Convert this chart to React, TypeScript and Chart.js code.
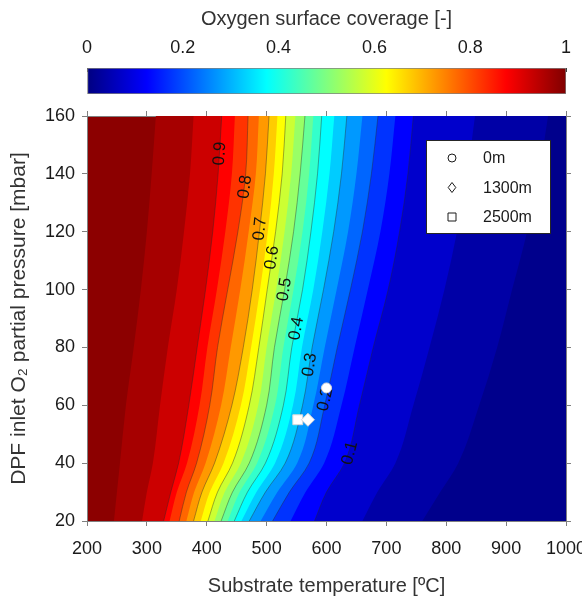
import React, { useEffect, useRef } from "react";
import { Chart, registerables } from "chart.js";

Chart.register(...registerables);

const FONT = '"Liberation Sans", Arial, Helvetica, sans-serif';
Chart.defaults.font.family = FONT;

// ---------- data ----------
const pressures = [20, 30, 40, 60, 80, 100, 120, 140, 160]; // mbar

// temperature (°C) of each coverage iso-line at the pressures above
const t0975 = [245, 250, 255, 265, 278, 290, 300, 308, 315];
const t095 = [292, 300, 310, 322, 335, 350, 362, 372, 378];
const t090 = [328, 340, 353, 370, 384, 398, 410, 419, 425];
const t085 = [338, 350, 367, 388, 401, 417, 431, 442, 447];
const t080 = [354, 366, 383, 405, 418, 435, 452, 465, 469];
const t075 = [366, 379, 398, 424, 440, 456, 470, 482, 487];
const t070 = [378, 392, 413, 442, 461, 476, 488, 498, 504];
const t065 = [390, 405, 428, 457, 474, 489, 502, 512, 518];
const t060 = [402, 418, 443, 471, 487, 501, 515, 526, 532];
const t055 = [413, 430, 457, 486, 500, 516, 530, 541, 548];
const t050 = [424, 443, 471, 500, 513, 530, 545, 556, 564];
const t045 = [435, 455, 484, 514, 528, 545, 560, 571, 578];
const t040 = [446, 468, 498, 528, 542, 560, 574, 585, 592];
const t035 = [458, 483, 514, 544, 559, 578, 593, 605, 613];
const t030 = [471, 498, 531, 560, 576, 595, 612, 625, 634];
const t025 = [490, 518, 551, 578, 597, 617, 636, 650, 660];
const t020 = [510, 538, 571, 597, 618, 640, 660, 675, 686];
const t015 = [540, 565, 596, 625, 647, 669, 690, 705, 715];
const t010 = [580, 600, 630, 655, 678, 703, 722, 736, 745];
const t005 = [660, 685, 715, 745, 772, 797, 818, 835, 848];
const t0025 = [760, 790, 820, 855, 885, 910, 935, 955, 970];

const contourLevels = [0.975, 0.95, 0.9, 0.85, 0.8, 0.75, 0.7, 0.65, 0.6, 0.55, 0.5, 0.45, 0.4, 0.35, 0.3, 0.25, 0.2, 0.15, 0.1, 0.05, 0.025];
const contourTemps = [t0975, t095, t090, t085, t080, t075, t070, t065, t060, t055, t050, t045, t040, t035, t030, t025, t020, t015, t010, t005, t0025];

// inline contour labels
const labelTexts = ["0.9", "0.8", "0.7", "0.6", "0.5", "0.4", "0.3", "0.2", "0.1"];
const labelLevels = [0.9, 0.8, 0.7, 0.6, 0.5, 0.4, 0.3, 0.2, 0.1];
const labelT = [422, 464, 489, 509, 530, 550, 572, 598, 639];
const labelP = [147, 135.5, 121, 111, 100, 86.5, 74, 62, 43.5];

// operating points
const siteLabels = ["0m", "1300m", "2500m"];
const siteT = [600, 569, 552];
const siteP = [66, 55, 55];
const siteStyles = ["circle", "rectRot", "rect"];
const siteRadius = [5, 6.5, 7];

// axes
const cbTicks = [0, 0.2, 0.4, 0.6, 0.8, 1];
const xTicksT = [200, 300, 400, 500, 600, 700, 800, 900, 1000];
const yTicksP = [20, 40, 60, 80, 100, 120, 140, 160];

// ---------- helpers ----------
function clamp(v: number) {
  return Math.max(0, Math.min(1, v));
}
function jet(v: number) {
  const r = clamp(Math.min(4 * v - 1.5, -4 * v + 4.5));
  const g = clamp(Math.min(4 * v - 0.5, -4 * v + 3.5));
  const b = clamp(Math.min(4 * v + 0.5, -4 * v + 2.5));
  return `rgb(${Math.round(r * 255)},${Math.round(g * 255)},${Math.round(b * 255)})`;
}

const AXIS = "#808080";
const TXT = "#1a1a1a";

export default function App() {
  const mainRef = useRef<HTMLCanvasElement>(null);
  const barRef = useRef<HTMLCanvasElement>(null);

  useEffect(() => {
    document.body.style.margin = "0";
    const nContours = contourLevels.length;

    const contourDatasets = contourLevels.map((lv, k) => {
      const next = k + 1 < nContours ? contourLevels[k + 1] : 0;
      const major = Math.abs(lv * 10 - Math.round(lv * 10)) < 1e-6;
      return {
        label: "c" + lv,
        data: pressures.map((p, i) => ({ x: contourTemps[k][i], y: p })),
        borderColor: major ? "rgba(40,40,40,0.5)" : "rgba(0,0,0,0)",
        borderWidth: major ? 0.8 : 0,
        backgroundColor: jet((lv + next) / 2),
        fill: { value: 1000 },
        pointRadius: 0,
        cubicInterpolationMode: "monotone",
        order: 100 - k,
      };
    });

    const siteDatasets = siteLabels.map((lab, i) => ({
      label: lab,
      data: [{ x: siteT[i], y: siteP[i] }],
      showLine: false,
      fill: false,
      pointStyle: siteStyles[i],
      pointRadius: siteRadius[i],
      pointBackgroundColor: "#ffffff",
      pointBorderColor: "#d8d8d8",
      pointBorderWidth: 1,
      order: -1,
    }));

    const bgPlugin = {
      id: "areaBg",
      beforeDraw(chart: any) {
        const { ctx, chartArea: a } = chart;
        ctx.save();
        ctx.fillStyle = jet((1 + contourLevels[0]) / 2);
        ctx.fillRect(a.left, a.top, a.width, a.height);
        ctx.restore();
      },
    };

    let labelsDone = false;
    const drawLabels = (chart: any) => {
      const { ctx } = chart;
      const xs = chart.scales.x;
      const ys = chart.scales.y;
      ctx.save();
      ctx.font = `17px ${FONT}`;
      ctx.fillStyle = "#111";
      ctx.textAlign = "center";
      ctx.textBaseline = "middle";
      labelLevels.forEach((lv, i) => {
        const k = contourLevels.indexOf(lv);
        const temps = contourTemps[k];
        let j = 0;
        while (j < pressures.length - 2 && pressures[j + 1] < labelP[i]) j++;
        const dx = xs.getPixelForValue(temps[j + 1]) - xs.getPixelForValue(temps[j]);
        const dy = ys.getPixelForValue(pressures[j + 1]) - ys.getPixelForValue(pressures[j]);
        const ang = Math.atan2(dy, dx);
        ctx.save();
        ctx.translate(xs.getPixelForValue(labelT[i]), ys.getPixelForValue(labelP[i]));
        ctx.rotate(ang);
        ctx.fillText(labelTexts[i], 0, 0);
        ctx.restore();
      });
      ctx.restore();
    };

    const labelPlugin = {
      id: "clabels",
      beforeDatasetsDraw() {
        labelsDone = false;
      },
      beforeDatasetDraw(chart: any, args: any) {
        if (!labelsDone && args.index >= nContours) {
          drawLabels(chart);
          labelsDone = true;
        }
      },
    };

    const legendPlugin = {
      id: "boxLegend",
      afterDraw(chart: any) {
        const { ctx, chartArea: a } = chart;
        const left = a.left + 339;
        const top = a.top + 24;
        const w = 125;
        const h = 94;
        ctx.save();
        ctx.fillStyle = "#ffffff";
        ctx.fillRect(left, top, w, h);
        ctx.strokeStyle = "#262626";
        ctx.lineWidth = 1;
        ctx.strokeRect(left + 0.5, top + 0.5, w - 1, h - 1);
        ctx.font = `16px ${FONT}`;
        ctx.textAlign = "left";
        ctx.textBaseline = "middle";
        siteLabels.forEach((lab, i) => {
          const cy = top + 18 + i * 29.5;
          const cx = left + 26;
          ctx.beginPath();
          if (siteStyles[i] === "circle") {
            ctx.arc(cx, cy, 4, 0, Math.PI * 2);
          } else if (siteStyles[i] === "rectRot") {
            ctx.moveTo(cx, cy - 5);
            ctx.lineTo(cx + 3.8, cy);
            ctx.lineTo(cx, cy + 5);
            ctx.lineTo(cx - 3.8, cy);
            ctx.closePath();
          } else {
            ctx.rect(cx - 4, cy - 4, 8, 8);
          }
          ctx.fillStyle = "#ffffff";
          ctx.fill();
          ctx.strokeStyle = "#1a1a1a";
          ctx.lineWidth = 1;
          ctx.stroke();
          ctx.fillStyle = TXT;
          ctx.fillText(lab, left + 57, cy + 1);
        });
        ctx.restore();
      },
    };

    const gridOpts = { drawOnChartArea: false, drawTicks: true, tickLength: 5, color: AXIS };
    const borderOpts = { display: true, color: AXIS, width: 1 };
    const tickFont = { size: 18, family: FONT };
    const titleFont = { size: 20, family: FONT };

    const main = new Chart(mainRef.current as HTMLCanvasElement, {
      type: "line",
      data: { datasets: [...contourDatasets, ...siteDatasets] as any },
      options: {
        indexAxis: "y",
        responsive: false,
        animation: false,
        devicePixelRatio: 1,
        events: [],
        layout: { padding: { left: 0, right: 16, top: 116, bottom: 0 } },
        plugins: { legend: { display: false }, tooltip: { enabled: false } },
        scales: {
          x: {
            type: "linear",
            position: "bottom",
            min: xTicksT[0],
            max: xTicksT[xTicksT.length - 1],
            ticks: {
              stepSize: 100,
              font: tickFont,
              color: TXT,
              padding: 12,
              maxRotation: 0,
              autoSkip: false,
              callback: (v: any) => String(v),
            },
            grid: gridOpts,
            border: borderOpts,
            title: {
              display: true,
              text: "Substrate temperature [ºC]",
              font: titleFont,
              color: "#333",
              padding: { top: 0, bottom: 4 },
            },
            afterFit: (s: any) => {
              s.height = 81;
              s.paddingLeft = 0;
              s.paddingRight = 0;
            },
            z: 1,
          },
          x2: {
            type: "linear",
            axis: "x",
            position: "top",
            min: xTicksT[0],
            max: xTicksT[xTicksT.length - 1],
            ticks: { stepSize: 100, display: false },
            grid: gridOpts,
            border: borderOpts,
            afterFit: (s: any) => {
              s.height = 0;
              s.paddingLeft = 0;
              s.paddingRight = 0;
            },
            z: 1,
          },
          y: {
            type: "linear",
            position: "left",
            min: yTicksP[0],
            max: yTicksP[yTicksP.length - 1],
            ticks: { stepSize: 20, font: tickFont, color: TXT, padding: 7, callback: (v: any) => String(v) },
            grid: gridOpts,
            border: borderOpts,
            title: {
              display: true,
              text: "DPF inlet O₂ partial pressure [mbar]",
              font: { size: 21, family: FONT },
              color: "#333",
              padding: { top: 7, bottom: 0 },
            },
            afterFit: (s: any) => {
              s.width = 87;
              s.paddingTop = 0;
              s.paddingBottom = 0;
            },
            z: 1,
          },
          y2: {
            type: "linear",
            axis: "y",
            position: "right",
            min: yTicksP[0],
            max: yTicksP[yTicksP.length - 1],
            ticks: { stepSize: 20, display: false },
            grid: gridOpts,
            border: borderOpts,
            afterFit: (s: any) => {
              s.width = 0;
            },
            z: 1,
          },
        },
      } as any,
      plugins: [bgPlugin, labelPlugin, legendPlugin],
    });

    const jetStops = [0, 0.125, 0.375, 0.625, 0.875, 1];
    const bar = new Chart(barRef.current as HTMLCanvasElement, {
      type: "bar",
      data: {
        labels: ["coverage"],
        datasets: [
          {
            data: [[cbTicks[0], cbTicks[cbTicks.length - 1]]],
            backgroundColor: (c: any) => {
              const ch = c.chart;
              if (!ch.chartArea) return "#000080";
              const xs = ch.scales.x;
              const g = ch.ctx.createLinearGradient(xs.getPixelForValue(0), 0, xs.getPixelForValue(1), 0);
              jetStops.forEach((s) => g.addColorStop(s, jet(s)));
              return g;
            },
            borderColor: AXIS,
            borderWidth: 1,
            borderSkipped: false,
            barPercentage: 1,
            categoryPercentage: 1,
          } as any,
        ],
      },
      options: {
        indexAxis: "y",
        responsive: false,
        animation: false,
        devicePixelRatio: 1,
        events: [],
        layout: { padding: { left: 87, right: 16, top: 0, bottom: 16 } },
        plugins: { legend: { display: false }, tooltip: { enabled: false } },
        scales: {
          x: {
            type: "linear",
            position: "top",
            min: cbTicks[0],
            max: cbTicks[cbTicks.length - 1],
            ticks: {
              stepSize: 0.2,
              font: tickFont,
              color: TXT,
              padding: 13,
              maxRotation: 0,
              callback: (v: any) => String(Math.round(v * 10) / 10),
            },
            grid: { drawOnChartArea: false, drawTicks: true, tickLength: -4, color: "#404040" },
            border: { display: false },
            title: {
              display: true,
              text: "Oxygen surface coverage [-]",
              font: titleFont,
              color: "#333",
              padding: { top: 7, bottom: 0 },
            },
            afterFit: (s: any) => {
              s.height = 68;
              s.paddingLeft = 0;
              s.paddingRight = 0;
            },
          },
          y: { display: false },
        },
      } as any,
    });

    return () => {
      main.destroy();
      bar.destroy();
    };
  }, []);

  return (
    <div style={{ position: "relative", width: 582, height: 602 }}>
      <canvas ref={mainRef} width={582} height={602} style={{ position: "absolute", left: 0, top: 0 }} />
      <canvas ref={barRef} width={582} height={110} style={{ position: "absolute", left: 0, top: 0 }} />
    </div>
  );
}
